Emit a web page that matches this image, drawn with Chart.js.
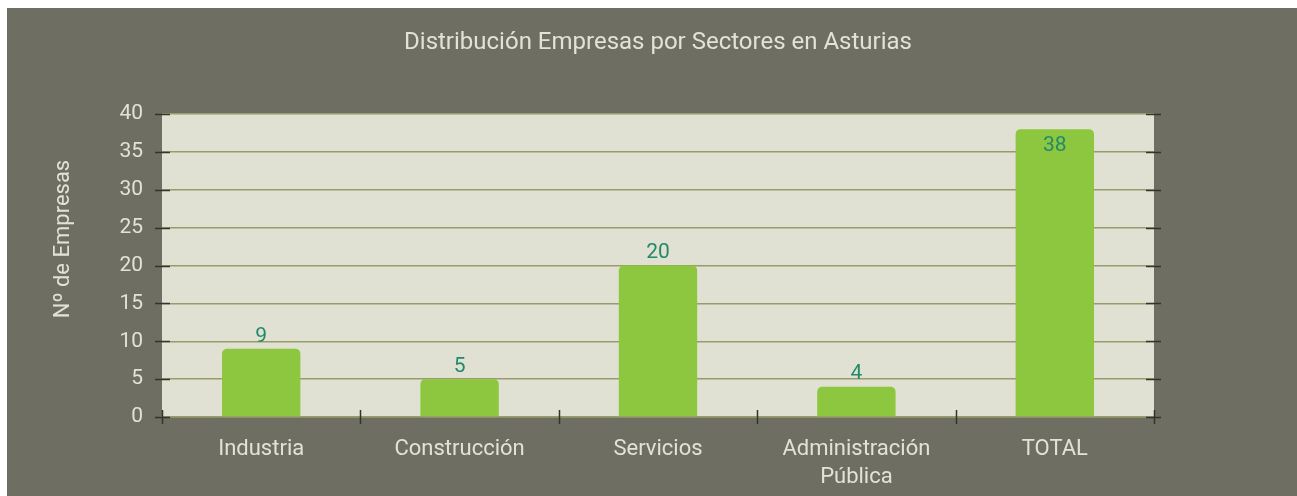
<!DOCTYPE html>
<html>
<head>
<meta charset="utf-8">
<script src="https://cdn.jsdelivr.net/npm/chart.js@4/dist/chart.umd.min.js"></script>
<style>
  html, body { margin: 0; padding: 0; background: #ffffff; }
  #wrap { position: absolute; left: 7px; top: 8px; width: 1290px; height: 488px; background: #6e6f62; }
</style>
</head>
<body>
<div id="wrap"><canvas id="chart" width="1290" height="488"></canvas></div>
<script>
const chartTitle = "Distribución Empresas por Sectores en Asturias"
const yTitle = "Nº de Empresas"
const categories = ["Industria", "Construcción", "Servicios", ["Administración", "Pública"], "TOTAL"]
const empresas = [9, 5, 20, 4, 38]
const yTicks = [0, 5, 10, 15, 20, 25, 30, 35, 40]

const PLOT_BG = "#e0e1d3"
const BAR = "#8dc63f"
const LABEL = "#228a6a"
const GRID = "#9a9a6c"
const TICK = "#33342c"
const TEXT = "#e2e3d6"
const FONT = "Roboto"

// fondo del area de trazado + titulos
const plotBackground = {
    id: "plotBackground",
    beforeDraw(chart) {
        const { ctx, chartArea } = chart
        ctx.save()
        ctx.fillStyle = PLOT_BG
        ctx.fillRect(chartArea.left, chartArea.top, chartArea.right - chartArea.left, chartArea.bottom - chartArea.top)
        ctx.fillStyle = TEXT
        ctx.font = `24px ${FONT}`
        ctx.textAlign = "center"
        ctx.textBaseline = "middle"
        ctx.fillText(chartTitle, (chartArea.left + chartArea.right) / 2, 35)
        // titulo del eje Y (un poco por encima del centro, como en el original)
        ctx.font = `22px ${FONT}`
        ctx.translate(56, 231)
        ctx.rotate(-Math.PI / 2)
        ctx.fillText(yTitle, 0, 0)
        ctx.restore()
    },
}

// marcas de los ejes (cruzan la linea del eje)
const axisMarks = {
    id: "axisMarks",
    afterDraw(chart) {
        const { ctx, chartArea, scales } = chart
        ctx.save()
        ctx.strokeStyle = TICK
        ctx.lineWidth = 1.5
        ctx.beginPath()
        yTicks.forEach((v) => {
            const y = Math.round(scales.y.getPixelForValue(v)) + 0.5
            ctx.moveTo(chartArea.left - 7, y)
            ctx.lineTo(chartArea.left + 8, y)
            ctx.moveTo(chartArea.right - 8, y)
            ctx.lineTo(chartArea.right + 7, y)
        })
        const n = categories.length
        for (let i = 0; i <= n; i++) {
            const x = Math.round(scales.x.left + (i * scales.x.width) / n) + 0.5
            ctx.moveTo(x, chartArea.bottom - 7)
            ctx.lineTo(x, chartArea.bottom + 7)
        }
        ctx.stroke()
        ctx.restore()
    },
}

// etiquetas de valor
const valueLabels = {
    id: "valueLabels",
    afterDatasetsDraw(chart) {
        const { ctx, chartArea } = chart
        const meta = chart.getDatasetMeta(0)
        ctx.save()
        ctx.fillStyle = LABEL
        ctx.font = `21px ${FONT}`
        ctx.textAlign = "center"
        meta.data.forEach((bar, i) => {
            let y = bar.y - 2
            ctx.textBaseline = "bottom"
            if (y - 22 < chartArea.top + 10) {
                y = bar.y + 6
                ctx.textBaseline = "top"
            }
            ctx.fillText(String(empresas[i]), bar.x, y)
        })
        ctx.restore()
    },
}

new Chart(document.getElementById("chart"), {
    type: "bar",
    data: {
        labels: categories,
        datasets: [
            {
                label: yTitle,
                data: empresas,
                backgroundColor: BAR,
                borderRadius: { topLeft: 5, topRight: 5 },
                borderSkipped: "bottom",
                categoryPercentage: 1,
                barPercentage: 0.395,
            },
        ],
    },
    options: {
        responsive: false,
        animation: false,
        layout: { padding: { left: 0, right: 143, top: 106, bottom: 0 } },
        plugins: {
            legend: { display: false },
            tooltip: { enabled: false },
            title: { display: false },
        },
        scales: {
            x: {
                grid: { display: false, drawTicks: false },
                border: { display: true, color: GRID, width: 1.5 },
                ticks: { color: TEXT, font: { family: FONT, size: 22, lineHeight: 1.3 }, padding: 18 },
                afterFit(scale) { scale.height = 79 },
            },
            y: {
                min: 0,
                max: 40,
                grid: { color: GRID, lineWidth: 1.5, drawTicks: false },
                border: { display: false },
                ticks: { stepSize: 5, color: TEXT, font: { family: FONT, size: 21 }, padding: 19 },
                afterFit(scale) { scale.width = 155 },
            },
        },
    },
    plugins: [plotBackground, axisMarks, valueLabels],
})
</script>
</body>
</html>
